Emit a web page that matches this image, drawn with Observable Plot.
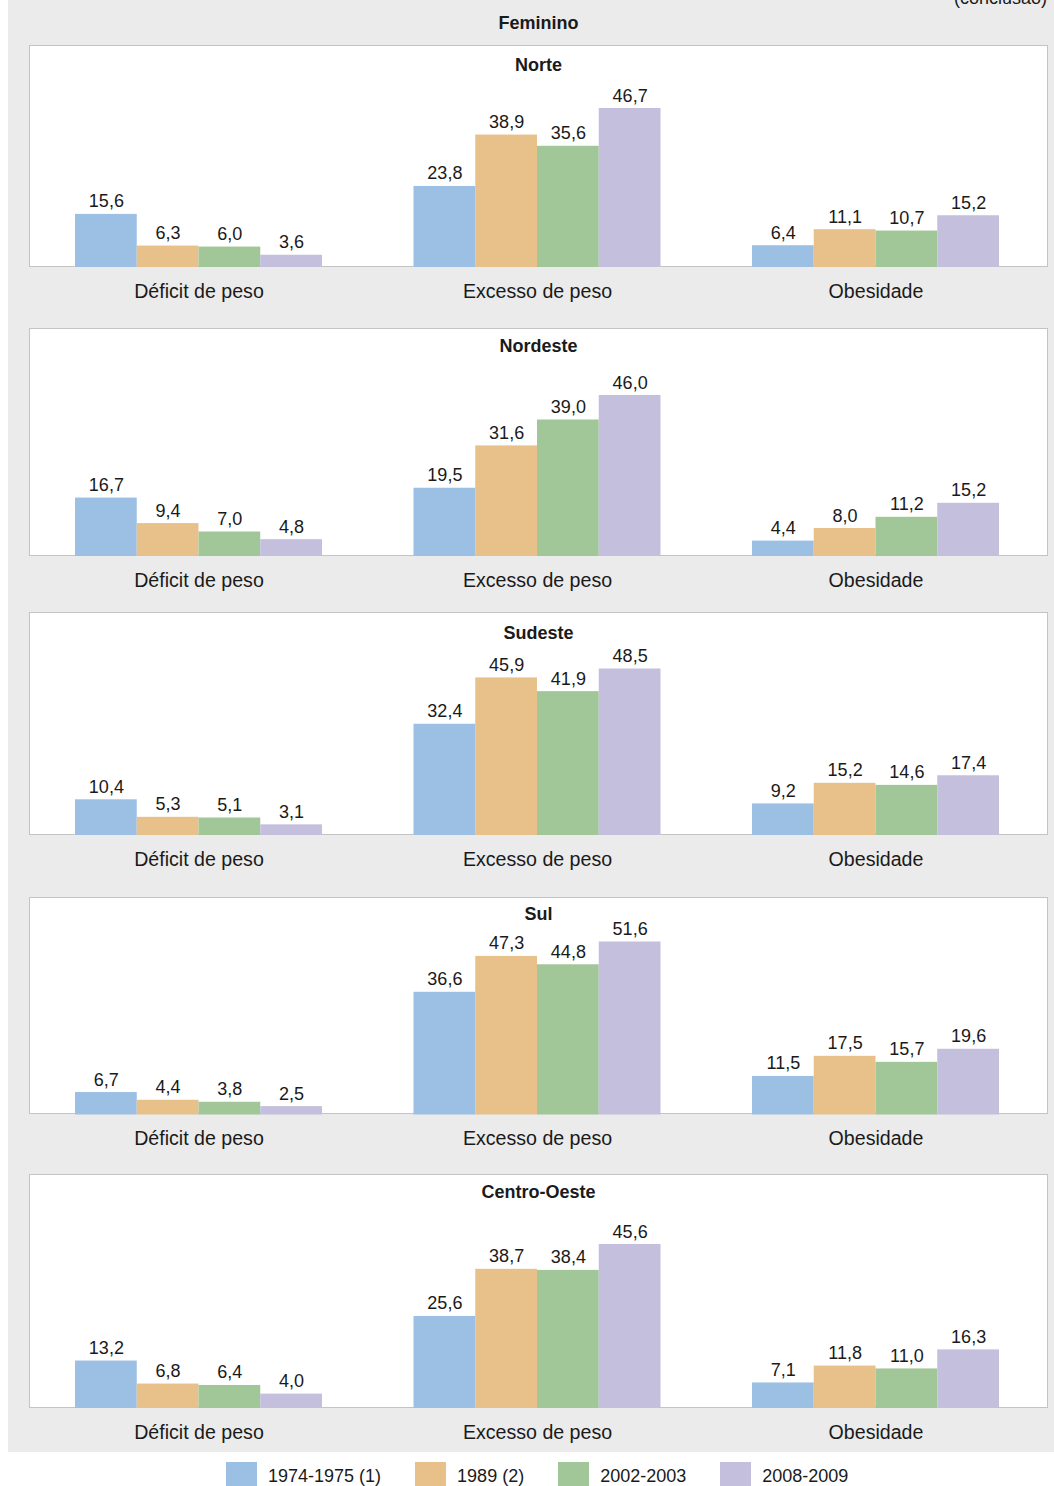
<!DOCTYPE html>
<html>
<head>
<meta charset="utf-8">
<script src="https://cdn.jsdelivr.net/npm/d3@7"></script>
<script src="https://cdn.jsdelivr.net/npm/@observablehq/plot@0.6"></script>
<style>
  html, body { margin: 0; padding: 0; background: #ffffff; }
  body { width: 1054px; height: 1486px; position: relative; overflow: hidden;
         font-family: "Liberation Sans", Arial, sans-serif; color: #1a1a1a; }
  #bg { position: absolute; left: 8px; top: 0; width: 1046px; height: 1452px; background: #ebebeb; }
  .abs { position: absolute; }
  .box { position: absolute; left: 29px; width: 1019px; background: #ffffff;
         border: 1px solid #c4c4c4; box-sizing: border-box; }
  .ptitle { position: absolute; left: 0; right: 0; text-align: center;
            font-weight: bold; font-size: 18px; line-height: 18px; }
  .legend { position: absolute; left: 226px; top: 1462px; display: flex; gap: 34px; }
  .legend .item { display: flex; align-items: center; font-size: 18px; line-height: 24px; }
  .legend .item span { position: relative; top: 2px; }
  .legend .sw { width: 31px; height: 24px; margin-right: 11px; }
</style>
</head>
<body>
<div id="bg"></div>
<div class="abs" style="right:7px; top:-11px; font-size:18px; line-height:18px;">(conclusão)</div>
<div class="abs" style="left:29px; width:1019px; top:14px; text-align:center; font-weight:bold; font-size:18px; line-height:18px;">Feminino</div>
<div id="panels"></div>
<div class="legend" id="legend"></div>
<script>
// ---- Data ----
const regions = ["Norte", "Nordeste", "Sudeste", "Sul", "Centro-Oeste"];
const indicators = ["Déficit de peso", "Excesso de peso", "Obesidade"];
const periods = ["1974-1975 (1)", "1989 (2)", "2002-2003", "2008-2009"];
const colors = ["#9cc0e4", "#e8c08a", "#a1c697", "#c4bfdd"];

// values[indicator][period]
const norte       = [[15.6, 6.3, 6.0, 3.6], [23.8, 38.9, 35.6, 46.7], [6.4, 11.1, 10.7, 15.2]];
const nordeste    = [[16.7, 9.4, 7.0, 4.8], [19.5, 31.6, 39.0, 46.0], [4.4, 8.0, 11.2, 15.2]];
const sudeste     = [[10.4, 5.3, 5.1, 3.1], [32.4, 45.9, 41.9, 48.5], [9.2, 15.2, 14.6, 17.4]];
const sul         = [[6.7, 4.4, 3.8, 2.5], [36.6, 47.3, 44.8, 51.6], [11.5, 17.5, 15.7, 19.6]];
const centroOeste = [[13.2, 6.8, 6.4, 4.0], [25.6, 38.7, 38.4, 45.6], [7.1, 11.8, 11.0, 16.3]];
const regionValues = [norte, nordeste, sudeste, sul, centroOeste];

// ---- Layout (page pixels) ----
const boxTops   = [45, 328, 612, 896.5, 1174];
const baselines = [267, 556, 835, 1114, 1408];
const maxTops   = [108, 395, 668.5, 941, 1244];
const titleTops = [10, 8, 11, 7, 8];

const fmt = v => v.toFixed(1).replace(".", ",");
const panels = document.getElementById("panels");

regions.forEach((region, r) => {
  const rows = [];
  indicators.forEach((ind, i) => periods.forEach((p, j) => {
    rows.push({indicator: ind, period: p, value: regionValues[r][i][j]});
  }));
  const top = boxTops[r], base = baselines[r];
  const inner = base - top;
  const box = document.createElement("div");
  box.className = "box";
  box.style.top = top + "px";
  box.style.height = inner + "px";
  const t = document.createElement("div");
  t.className = "ptitle";
  t.style.top = titleTops[r] + "px";
  t.textContent = region;
  box.appendChild(t);
  panels.appendChild(box);

  const maxV = d3.max(rows, d => d.value);
  const chart = Plot.plot({
    width: 1020,
    height: inner + 45,
    marginLeft: 0,
    marginRight: 4,
    marginTop: maxTops[r] - top,
    marginBottom: 45,
    style: {background: "transparent", fontFamily: "'Liberation Sans', Arial, sans-serif", overflow: "visible"},
    fx: {domain: indicators, paddingInner: 0.2703, paddingOuter: 0.1359, round: false, axis: null, label: null},
    x: {domain: periods, padding: 0, round: false, axis: null},
    y: {domain: [0, maxV], axis: null},
    color: {domain: periods, range: colors},
    marks: [
      Plot.barY(rows, {fx: "indicator", x: "period", y: "value", fill: "period"}),
      Plot.text(rows, {fx: "indicator", x: "period", y: "value", text: d => fmt(d.value),
        lineAnchor: "bottom", dy: -7, fontSize: 18, fill: "#1a1a1a"}),
      Plot.text(indicators, {fx: d => d, text: d => d, frameAnchor: "bottom",
        lineAnchor: "bottom", dy: 30, fontSize: 19.6, fill: "#1a1a1a"})
    ]
  });
  chart.style.position = "absolute";
  chart.style.left = "29px";
  chart.style.top = top + "px";
  panels.appendChild(chart);
});

// ---- Legend ----
const legend = document.getElementById("legend");
periods.forEach((p, j) => {
  const item = document.createElement("div");
  item.className = "item";
  const sw = document.createElement("div");
  sw.className = "sw";
  sw.style.background = colors[j];
  const lab = document.createElement("span");
  lab.textContent = p;
  item.appendChild(sw);
  item.appendChild(lab);
  legend.appendChild(item);
});
</script>
</body>
</html>
